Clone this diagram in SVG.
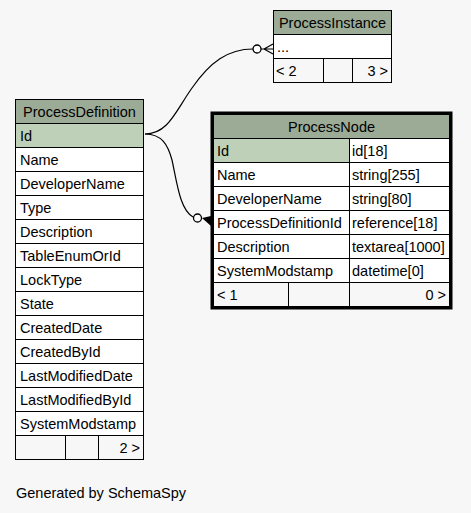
<svg xmlns="http://www.w3.org/2000/svg" width="471" height="513" viewBox="0 0 471 513">
<style>
text{font-family:"Liberation Sans",Arial,sans-serif;font-size:14.5px;fill:#000}
.hd{fill:#9bab96;stroke:#000;stroke-width:1}
.pk{fill:#bed1b8;stroke:#000;stroke-width:1}
.rw{fill:#fff;stroke:#000;stroke-width:1}
.ft{fill:#f7f7f7;stroke:#000;stroke-width:1}
.c{text-anchor:middle}
.r{text-anchor:end}
.edge{fill:none;stroke:#000;stroke-width:1.2}
</style>
<rect width="471" height="513" fill="#f7f7f7"/>
<g id="connectors">
<path class="edge" d="M145,134 C168,134 175,112 192,88 C210,62 228,49 253,49"/>
<circle cx="257" cy="49" r="4" fill="#fff" stroke="#000" stroke-width="1.3"/>
<path class="edge" d="M261,49 L273,49 M264,49 L273,44 M264,49 L273,54"/>
<path class="edge" d="M145,134 C162,134 168,145 172,160 C177,183 180,210 193,217"/>
<circle cx="197.5" cy="218" r="4" fill="#fff" stroke="#000" stroke-width="1.3"/>
<polygon points="202,218 211,216 211,226" fill="#000"/>
</g>
<g id="ProcessInstance">
<rect class="hd" x="273.5" y="10.5" width="118" height="24"/>
<text class="c" x="332.5" y="28">ProcessInstance</text>
<rect class="rw" x="273.5" y="34.5" width="118" height="24"/>
<text x="277" y="52">...</text>
<rect class="ft" x="273.5" y="58.5" width="50" height="24"/>
<rect class="ft" x="323.5" y="58.5" width="29" height="24"/>
<rect class="ft" x="352.5" y="58.5" width="39" height="24"/>
<text x="276" y="76">&lt; 2</text>
<text class="r" x="388" y="76">3 &gt;</text>
</g>
<g id="ProcessDefinition">
<rect class="hd" x="15.5" y="99.5" width="128" height="24"/>
<text class="c" x="79.5" y="117">ProcessDefinition</text>
<rect class="pk" x="15.5" y="123.5" width="128" height="24"/>
<text x="20" y="141">Id</text>
<rect class="rw" x="15.5" y="147.5" width="128" height="24"/>
<text x="20" y="165">Name</text>
<rect class="rw" x="15.5" y="171.5" width="128" height="24"/>
<text x="20" y="189">DeveloperName</text>
<rect class="rw" x="15.5" y="195.5" width="128" height="24"/>
<text x="20" y="213">Type</text>
<rect class="rw" x="15.5" y="219.5" width="128" height="24"/>
<text x="20" y="237">Description</text>
<rect class="rw" x="15.5" y="243.5" width="128" height="24"/>
<text x="20" y="261">TableEnumOrId</text>
<rect class="rw" x="15.5" y="267.5" width="128" height="24"/>
<text x="20" y="285">LockType</text>
<rect class="rw" x="15.5" y="291.5" width="128" height="24"/>
<text x="20" y="309">State</text>
<rect class="rw" x="15.5" y="315.5" width="128" height="24"/>
<text x="20" y="333">CreatedDate</text>
<rect class="rw" x="15.5" y="339.5" width="128" height="24"/>
<text x="20" y="357">CreatedById</text>
<rect class="rw" x="15.5" y="363.5" width="128" height="24"/>
<text x="20" y="381">LastModifiedDate</text>
<rect class="rw" x="15.5" y="387.5" width="128" height="24"/>
<text x="20" y="405">LastModifiedById</text>
<rect class="rw" x="15.5" y="411.5" width="128" height="24"/>
<text x="20" y="429">SystemModstamp</text>
<rect class="ft" x="15.5" y="435.5" width="50" height="24"/>
<rect class="ft" x="65.5" y="435.5" width="33" height="24"/>
<rect class="ft" x="98.5" y="435.5" width="45" height="24"/>
<text class="r" x="140" y="453">2 &gt;</text>
</g>
<g id="ProcessNode">
<rect x="212" y="113" width="239" height="195" fill="#fff" stroke="#000" stroke-width="3"/>
<rect class="hd" x="213.5" y="114.5" width="236" height="24"/>
<text class="c" x="331.5" y="132">ProcessNode</text>
<rect class="pk" x="213.5" y="138.5" width="136" height="24"/>
<rect class="rw" x="349.5" y="138.5" width="100" height="24"/>
<text x="217" y="156">Id</text><text x="352" y="156">id[18]</text>
<rect class="rw" x="213.5" y="162.5" width="136" height="24"/>
<rect class="rw" x="349.5" y="162.5" width="100" height="24"/>
<text x="217" y="180">Name</text><text x="352" y="180">string[255]</text>
<rect class="rw" x="213.5" y="186.5" width="136" height="24"/>
<rect class="rw" x="349.5" y="186.5" width="100" height="24"/>
<text x="217" y="204">DeveloperName</text><text x="352" y="204">string[80]</text>
<rect class="rw" x="213.5" y="210.5" width="136" height="24"/>
<rect class="rw" x="349.5" y="210.5" width="100" height="24"/>
<text x="217" y="228">ProcessDefinitionId</text><text x="352" y="228">reference[18]</text>
<rect class="rw" x="213.5" y="234.5" width="136" height="24"/>
<rect class="rw" x="349.5" y="234.5" width="100" height="24"/>
<text x="217" y="252">Description</text><text x="352" y="252">textarea[1000]</text>
<rect class="rw" x="213.5" y="258.5" width="136" height="24"/>
<rect class="rw" x="349.5" y="258.5" width="100" height="24"/>
<text x="217" y="276">SystemModstamp</text><text x="352" y="276">datetime[0]</text>
<rect class="ft" x="213.5" y="282.5" width="75" height="24"/>
<rect class="ft" x="288.5" y="282.5" width="61" height="24"/>
<rect class="ft" x="349.5" y="282.5" width="100" height="24"/>
<text x="217" y="300">&lt; 1</text>
<text class="r" x="446" y="300">0 &gt;</text>
</g>
<text x="16" y="498">Generated by SchemaSpy</text>
</svg>
